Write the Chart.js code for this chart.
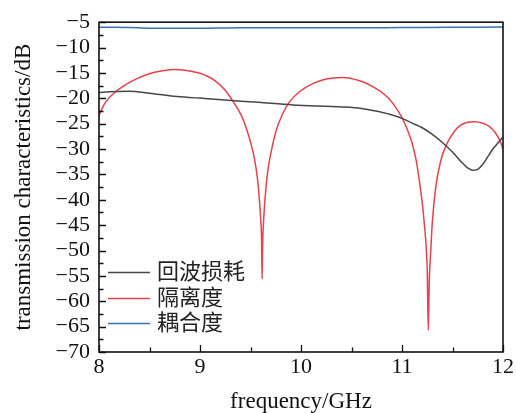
<!DOCTYPE html>
<html>
<head>
<meta charset="utf-8">
<script src="https://cdn.jsdelivr.net/npm/chart.js@4"></script>
<style>
  html, body { margin: 0; padding: 0; background: #fff; }
  #chart { display: block; }
</style>
</head>
<body>
<canvas id="chart" width="516" height="413"></canvas>
<script>
// 数据
const seriesNames = ["回波损耗", "隔离度", "耦合度"];
const seriesColors = ["#474747", "#e8414b", "#3b6fb6"];

const returnFreq = [8.0, 8.1, 8.3, 8.5, 8.74, 9.0, 9.15, 9.58, 9.92, 10.41, 10.6, 10.74, 10.87, 11.005, 11.1, 11.2, 11.3, 11.4, 11.5, 11.6, 11.65, 11.7, 11.75, 11.8, 11.85, 11.9, 11.95, 12.0];
const returnLoss = [-18.9, -18.7, -18.6, -19.0, -19.6, -19.95, -20.2, -20.8, -21.3, -21.7, -22.0, -22.5, -23.1, -24.0, -24.9, -25.8, -27.1, -28.7, -30.6, -32.8, -33.7, -34.2, -34.0, -33.0, -31.5, -30.0, -28.8, -27.6];

const isoFreq = [8.0, 8.066, 8.165, 8.25, 8.33, 8.49, 8.6, 8.74, 8.87, 8.99, 9.08, 9.15, 9.25, 9.33, 9.415, 9.465, 9.5, 9.54, 9.57, 9.59, 9.6, 9.61, 9.615, 9.62, 9.63, 9.645, 9.67, 9.7, 9.755, 9.82, 9.886, 9.985, 10.117, 10.25, 10.4, 10.58, 10.74, 10.83, 10.91, 11.005, 11.055, 11.1, 11.14, 11.17, 11.2, 11.22, 11.24, 11.25, 11.26, 11.27, 11.285, 11.3, 11.335, 11.385, 11.43, 11.47, 11.52, 11.58, 11.65, 11.72, 11.8, 11.86, 11.92, 11.97, 12.0];
const isolation = [-23.3, -20.7, -18.7, -17.5, -16.55, -15.2, -14.65, -14.3, -14.5, -15.0, -15.7, -16.55, -18.4, -20.7, -23.6, -26.3, -28.6, -32.0, -36.0, -40.5, -43.5, -48.0, -55.6, -49.0, -44.0, -39.5, -34.5, -31.0, -26.3, -23.0, -20.7, -18.7, -17.1, -16.2, -15.9, -16.55, -18.05, -19.3, -21.0, -24.0, -26.3, -28.8, -32.2, -36.0, -40.5, -44.5, -49.5, -54.0, -65.7, -56.0, -50.0, -44.5, -37.4, -32.2, -29.6, -28.0, -26.5, -25.3, -24.7, -24.6, -24.9, -25.5, -26.7, -28.4, -30.0];

const coupleFreq = [8.0, 8.3, 8.6, 9.0, 9.4, 10.0, 10.5, 11.0, 11.5, 12.0];
const coupling = [-6.0, -6.05, -6.2, -6.2, -6.1, -6.1, -6.1, -6.05, -6.0, -5.95];

const xTicks = [8, 9, 10, 11, 12];
const yTicks = [-70, -65, -60, -55, -50, -45, -40, -35, -30, -25, -20, -15, -10, -5];

const toPoints = (xs, ys) => xs.map((x, i) => ({ x: x, y: ys[i] }));

const serif = "'Liberation Serif', 'DejaVu Serif', serif";
const cjk = "'Noto Sans CJK SC', sans-serif";

// 内向刻度线 + 边框
const framePlugin = {
    id: "frame",
    afterDatasetsDraw(chart) {
        const { ctx, chartArea: a, scales } = chart;
        ctx.save();
        ctx.strokeStyle = "#111";
        ctx.lineWidth = 1.3;
        ctx.beginPath();
        for (let v = 8; v <= 12.001; v += 0.5) {
            const px = Math.round(scales.x.getPixelForValue(v)) + 0.5;
            const len = Math.abs(v - Math.round(v)) < 1e-6 ? 7 : 4.5;
            ctx.moveTo(px, a.bottom);
            ctx.lineTo(px, a.bottom - len);
        }
        for (let v = -70; v <= -5 + 0.01; v += 2.5) {
            const py = Math.round(scales.y.getPixelForValue(v)) + 0.5;
            const len = Math.abs(v % 5) < 1e-6 ? 7 : 4.5;
            ctx.moveTo(a.left, py);
            ctx.lineTo(a.left + len, py);
        }
        ctx.stroke();
        ctx.lineWidth = 1.6;
        ctx.strokeRect(a.left, a.top, a.right - a.left, a.bottom - a.top);
        ctx.restore();
    }
};

// 图例 (绘制在图内左下)
const legendPlugin = {
    id: "innerLegend",
    afterDraw(chart) {
        const { ctx } = chart;
        const rows = [272, 298, 323];
        ctx.save();
        ctx.font = "22px " + cjk;
        ctx.textBaseline = "middle";
        chart.data.datasets.forEach((ds, i) => {
            ctx.strokeStyle = ds.borderColor;
            ctx.lineWidth = 1.5;
            ctx.beginPath();
            ctx.moveTo(108, rows[i] + 0.5);
            ctx.lineTo(150, rows[i] + 0.5);
            ctx.stroke();
            ctx.fillStyle = "#222";
            ctx.fillText(ds.label, 157, rows[i] - 1);
        });
        ctx.restore();
    }
};

const datasets = [returnLoss, isolation, coupling].map((vals, i) => ({
    label: seriesNames[i],
    data: toPoints([returnFreq, isoFreq, coupleFreq][i], vals),
    borderColor: seriesColors[i],
    borderWidth: 1.5,
    pointRadius: 0,
    showLine: true,
    fill: false,
    cubicInterpolationMode: "monotone"
}));

new Chart(document.getElementById("chart"), {
    type: "scatter",
    data: { datasets: datasets },
    plugins: [framePlugin, legendPlugin],
    options: {
        responsive: false,
        animation: false,
        layout: { padding: { top: 22, right: 12, left: 0, bottom: 0 } },
        plugins: {
            legend: { display: false },
            tooltip: { enabled: false }
        },
        scales: {
            x: {
                type: "linear",
                min: 8,
                max: 12,
                afterBuildTicks: s => { s.ticks = xTicks.map(v => ({ value: v })); },
                afterFit: s => { s.height = 61; },
                grid: { display: false, drawTicks: false },
                border: { display: false },
                ticks: {
                    color: "#111",
                    padding: 2,
                    autoSkip: false,
                    maxRotation: 0,
                    font: { family: serif, size: 22 }
                },
                title: {
                    display: true,
                    text: "frequency/GHz",
                    color: "#111",
                    padding: { top: 0, bottom: -3 },
                    font: { family: serif, size: 23 }
                }
            },
            y: {
                type: "linear",
                min: -70,
                max: -5,
                afterBuildTicks: s => { s.ticks = yTicks.map(v => ({ value: v })); },
                afterFit: s => { s.width = 99; },
                grid: { display: false, drawTicks: false },
                border: { display: false },
                ticks: {
                    color: "#111",
                    padding: 9,
                    autoSkip: false,
                    font: { family: serif, size: 22 },
                    callback: v => String(v).replace("-", "\u2212")
                },
                title: {
                    display: true,
                    text: "transmission characteristics/dB",
                    color: "#111",
                    padding: { top: 10, bottom: 0 },
                    font: { family: serif, size: 23 }
                }
            }
        }
    }
});
</script>
</body>
</html>
